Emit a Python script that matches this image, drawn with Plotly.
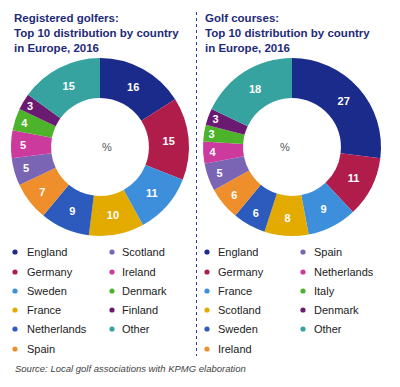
import plotly.graph_objects as go

palette = ["#1b2b8c", "#b01d4b", "#3d8fdc", "#e3aa00", "#2c5bbd", "#ef8f2b",
           "#7a65b4", "#cc3a9d", "#4db32a", "#6b1a72", "#37a3a0"]

golfers_countries = ["England", "Germany", "Sweden", "France", "Netherlands", "Spain",
                     "Scotland", "Ireland", "Denmark", "Finland", "Other"]
golfers_values = [16, 15, 11, 10, 9, 7, 5, 5, 4, 3, 15]

courses_countries = ["England", "Germany", "France", "Scotland", "Sweden", "Ireland",
                     "Spain", "Netherlands", "Italy", "Denmark", "Other"]
courses_values = [27, 11, 9, 8, 6, 6, 5, 4, 3, 3, 18]

titles = ["Registered golfers:<br>Top 10 distribution by country<br>in Europe, 2016",
          "Golf courses:<br>Top 10 distribution by country<br>in Europe, 2016"]
source = "Source: Local golf associations with KPMG elaboration"

W, H = 400, 387
FONT = "Liberation Sans, Arial, sans-serif"
TITLE_COLOR = "#1e2a78"

def px(x):
    return x / W

def py(y):
    return 1 - y / H

fig = go.Figure()
R = 89
centers = [(100, 147), (292, 147)]
for (cx, cy), labels, vals in [(centers[0], golfers_countries, golfers_values),
                               (centers[1], courses_countries, courses_values)]:
    fig.add_trace(go.Pie(
        labels=labels, values=vals, text=[str(v) for v in vals],
        textinfo="text", textposition="inside", insidetextorientation="horizontal",
        sort=False, direction="clockwise", rotation=0, hole=0.55,
        marker=dict(colors=palette, line=dict(width=0)),
        textfont=dict(family=FONT, size=11, color="white", weight="bold"),
        domain=dict(x=[px(cx - R), px(cx + R)], y=[py(cy + R), py(cy - R)]),
        showlegend=False, hoverinfo="label+value",
    ))

annotations = []
shapes = []
# titles
for x0, t in [(12, titles[0]), (203, titles[1])]:
    annotations.append(dict(x=px(x0), y=py(10), xref="paper", yref="paper",
                            xanchor="left", yanchor="top", align="left", showarrow=False,
                            text="<b>" + t + "</b>",
                            font=dict(family=FONT, size=11.5, color=TITLE_COLOR)))
# center %
for cx, cy in centers:
    annotations.append(dict(x=px(cx), y=py(cy), xref="paper", yref="paper",
                            showarrow=False, text="%",
                            font=dict(family=FONT, size=11, color="#555555")))

# legends
row_y = [252, 272, 291, 310, 329, 349]
for labels, colx in [(golfers_countries, [(15, 25), (112, 120)]),
                     (courses_countries, [(207, 216), (303, 312)])]:
    for i, lab in enumerate(labels):
        col = 0 if i < 6 else 1
        row = i if i < 6 else i - 6
        bx, tx = colx[col]
        y = row_y[row]
        shapes.append(dict(type="circle", xref="paper", yref="paper",
                           x0=px(bx - 2.6), x1=px(bx + 2.6), y0=py(y + 2.6), y1=py(y - 2.6),
                           fillcolor=palette[i], line=dict(width=0)))
        annotations.append(dict(x=px(tx), y=py(y), xref="paper", yref="paper",
                                xanchor="left", yanchor="middle", showarrow=False, text=lab,
                                font=dict(family=FONT, size=11, color="#222222")))

# divider
shapes.append(dict(type="line", xref="paper", yref="paper", x0=px(196.5), x1=px(196.5),
                   y0=py(12), y1=py(356), line=dict(color="#2a3a9a", width=1, dash="dot")))

annotations.append(dict(x=px(13), y=py(368), xref="paper", yref="paper",
                        xanchor="left", yanchor="middle", showarrow=False,
                        text="<i>" + source + "</i>",
                        font=dict(family=FONT, size=9.5, color="#444444")))

fig.update_layout(width=W, height=H, margin=dict(l=0, r=0, t=0, b=0),
                  paper_bgcolor="white", plot_bgcolor="white",
                  annotations=annotations, shapes=shapes,
                  uniformtext=dict(minsize=11, mode="show"))
fig.write_html("out.html", config={"displayModeBar": False},
               post_script="document.body.style.margin='0';document.body.style.overflow='hidden';")
